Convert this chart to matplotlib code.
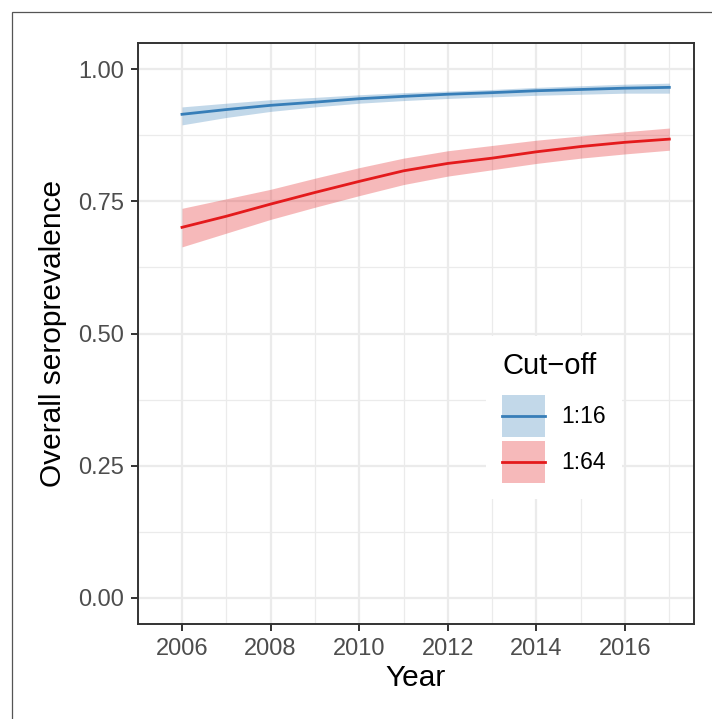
import numpy as np
import matplotlib.pyplot as plt
from matplotlib.patches import Patch, Rectangle
from matplotlib.lines import Line2D
from matplotlib.legend_handler import HandlerTuple, HandlerLine2D

plt.rcParams['font.family'] = ['Liberation Sans', 'DejaVu Sans']

years = [2006, 2007, 2008, 2009, 2010, 2011, 2012, 2013, 2014, 2015, 2016, 2017]

# cut-off 1:16
mid_16 = [0.915, 0.924, 0.932, 0.938, 0.9445, 0.949, 0.953, 0.956, 0.9596, 0.962, 0.9645, 0.966]
low_16 = [0.895, 0.909, 0.9205, 0.929, 0.936, 0.941, 0.945, 0.948, 0.951, 0.953, 0.955, 0.955]
up_16 = [0.929, 0.936, 0.9426, 0.947, 0.952, 0.956, 0.959, 0.962, 0.966, 0.969, 0.972, 0.974]

# cut-off 1:64
mid_64 = [0.701, 0.722, 0.745, 0.767, 0.788, 0.808, 0.822, 0.832, 0.844, 0.854, 0.862, 0.868]
low_64 = [0.664, 0.690, 0.716, 0.739, 0.761, 0.782, 0.798, 0.810, 0.822, 0.832, 0.840, 0.847]
up_64 = [0.737, 0.755, 0.773, 0.794, 0.814, 0.832, 0.846, 0.856, 0.866, 0.874, 0.882, 0.889]

labels = ['1:16', '1:64']
colors = ['#377EB8', '#E41A1C']


class CenteredLine(HandlerLine2D):
    # put the key line in the middle of the filled key box
    def create_artists(self, legend, orig_handle, xdescent, ydescent,
                       width, height, fontsize, trans):
        return super().create_artists(legend, orig_handle, xdescent, 2 * ydescent,
                                      width, height, fontsize, trans)


fig = plt.figure(figsize=(7.12, 7.19), dpi=100)
ax = fig.add_axes([0.1934, 0.1321, 0.7809, 0.8081])

# outer frame
fig.patches.append(Rectangle((12 / 712, -0.1), 1.2, 1 - 12 / 719 + 0.1,
                             transform=fig.transFigure, fill=False,
                             edgecolor='#555555', linewidth=0.9))

ax.fill_between(years, low_16, up_16, color=colors[0], alpha=0.3, linewidth=0)
ax.fill_between(years, low_64, up_64, color=colors[1], alpha=0.3, linewidth=0)
ax.plot(years, mid_16, color=colors[0], lw=2.0)
ax.plot(years, mid_64, color=colors[1], lw=2.0)

ax.set_xlim(2005.45, 2017.55)
ax.set_ylim(-0.05, 1.05)
ax.set_xticks(range(2006, 2017, 2))
ax.set_xticks(range(2005, 2018, 2), minor=True)
ax.set_yticks([0, 0.25, 0.5, 0.75, 1.0])
ax.set_yticklabels(['0.00', '0.25', '0.50', '0.75', '1.00'])
ax.set_yticks([0.125, 0.375, 0.625, 0.875], minor=True)

ax.set_axisbelow(True)
ax.grid(which='major', color='#EBEBEB', lw=1.6)
ax.grid(which='minor', color='#EBEBEB', lw=0.9)
for s in ax.spines.values():
    s.set_color('#333333')
    s.set_linewidth(1.4)

ax.tick_params(which='major', length=5, width=1.4, color='#333333',
               labelsize=17, labelcolor='#4D4D4D', pad=5)
ax.tick_params(which='minor', length=0)

ax.set_xlabel('Year', fontsize=21.5, labelpad=3)
ax.set_ylabel('Overall seroprevalence', fontsize=21.5, labelpad=8)

handles = [(Patch(facecolor=c, alpha=0.3, edgecolor='none'),
            Line2D([], [], color=c, lw=2.0)) for c in colors]
leg = ax.legend(handles, labels, title='Cut\u2212off', fontsize=16.5, title_fontsize=21,
                handler_map={tuple: HandlerTuple(ndivide=1, pad=0),
                             Line2D: CenteredLine()},
                loc='upper left', bbox_to_anchor=(486 / 712, 1 - 336 / 719),
                bbox_transform=fig.transFigure, borderaxespad=0,
                frameon=True, fancybox=False,
                framealpha=1, edgecolor='none', facecolor='white',
                handlelength=1.86, handleheight=2.42, labelspacing=0.18,
                handletextpad=0.74, borderpad=0.7, alignment='left')
leg._legend_box.sep = 11  # more room under the legend title

fig.savefig('out.png', dpi=100)
